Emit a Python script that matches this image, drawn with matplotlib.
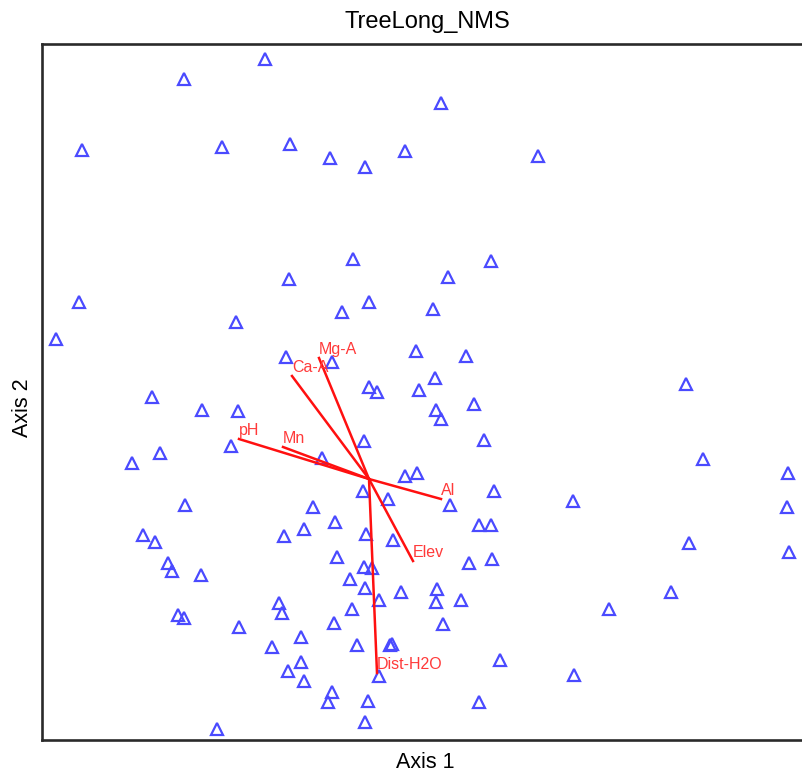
import matplotlib
matplotlib.use('Agg')
import matplotlib.pyplot as plt

plt.rcParams['font.family'] = ['Liberation Sans', 'DejaVu Sans']

# sample scores (plot units, axis 2 grows downward)
axis1 = [265, 184, 82, 222, 290, 330, 365, 405, 441, 538,
         289, 353, 491, 448, 79, 236, 342, 369, 433, 56,
         286, 416, 466, 332, 435, 369, 377, 419, 152, 202,
         238, 436, 441, 474, 231, 160, 132, 364, 484, 322,
         405, 417, 363, 388, 450, 494, 313, 185, 335, 304,
         284, 366, 393, 479, 491, 143, 155, 168, 172, 201,
         337, 364, 372, 350, 469, 492, 365, 379, 401, 437,
         436, 461, 352, 279, 282, 178, 184, 239, 334, 443,
         301, 357, 392, 390, 272, 500, 301, 288, 304, 379,
         332, 328, 368, 479, 365, 217, 686, 703, 788, 573,
         787, 689, 789, 671, 609, 574]
axis2 = [59, 79, 150, 147, 144, 158, 167, 151, 103, 156,
         279, 259, 261, 277, 302, 322, 312, 302, 309, 339,
         357, 351, 356, 362, 378, 387, 392, 390, 397, 410,
         411, 410, 419, 404, 446, 453, 463, 441, 440, 458,
         476, 473, 491, 499, 505, 491, 507, 505, 522, 529,
         536, 534, 540, 525, 525, 535, 542, 563, 571, 575,
         557, 567, 568, 579, 563, 559, 588, 600, 592, 589,
         602, 600, 609, 603, 613, 615, 618, 627, 623, 624,
         637, 645, 644, 645, 647, 660, 662, 671, 681, 676,
         692, 702, 701, 702, 722, 729, 384, 459, 473, 501,
         507, 543, 552, 592, 609, 675]

# joint plot vectors (origin and tips)
origin = (369, 479)
vec_names = ['pH', 'Mn', 'Ca-A', 'Mg-A', 'Al', 'Elev', 'Dist-H2O']
vec_x = [239, 283, 292, 319, 441, 413, 377]
vec_y = [439, 447, 376, 358, 499, 561, 673]

fig = plt.figure(figsize=(8.02, 7.71), dpi=100)
ax = fig.add_axes([42/802, 31/771, 760/802, 696/771])

ax.plot(axis1, axis2, linestyle='none', marker='^', ms=8, mew=1.6,
        mfc='none', mec='#4a4aff', zorder=2)

for name, vx, vy in zip(vec_names, vec_x, vec_y):
    ax.plot([origin[0], vx], [origin[1], vy], color='#ff1010', lw=1.8, zorder=3)
    ax.annotate(name, (vx, vy), xytext=(0, 0.5), textcoords='offset points',
                ha='left', va='bottom', color='#ff3a3a', fontsize=11.5, zorder=4)

ax.set_xlim(42, 802)
ax.set_ylim(740, 44)
ax.set_xticks([])
ax.set_yticks([])
ax.spines['right'].set_visible(False)
for s in ['left', 'top', 'bottom']:
    ax.spines[s].set_linewidth(1.9)
    ax.spines[s].set_color('#2a2a2a')

fig.text(427/802, 1 - 22/771, 'TreeLong_NMS', ha='center', va='center', fontsize=17)
fig.text(425/802, 1 - 762/771, 'Axis 1', ha='center', va='center', fontsize=15.5)
fig.text(22/802, 1 - 408/771, 'Axis 2', ha='center', va='center', fontsize=15.5, rotation=90)

fig.savefig('out.png', dpi=100)
